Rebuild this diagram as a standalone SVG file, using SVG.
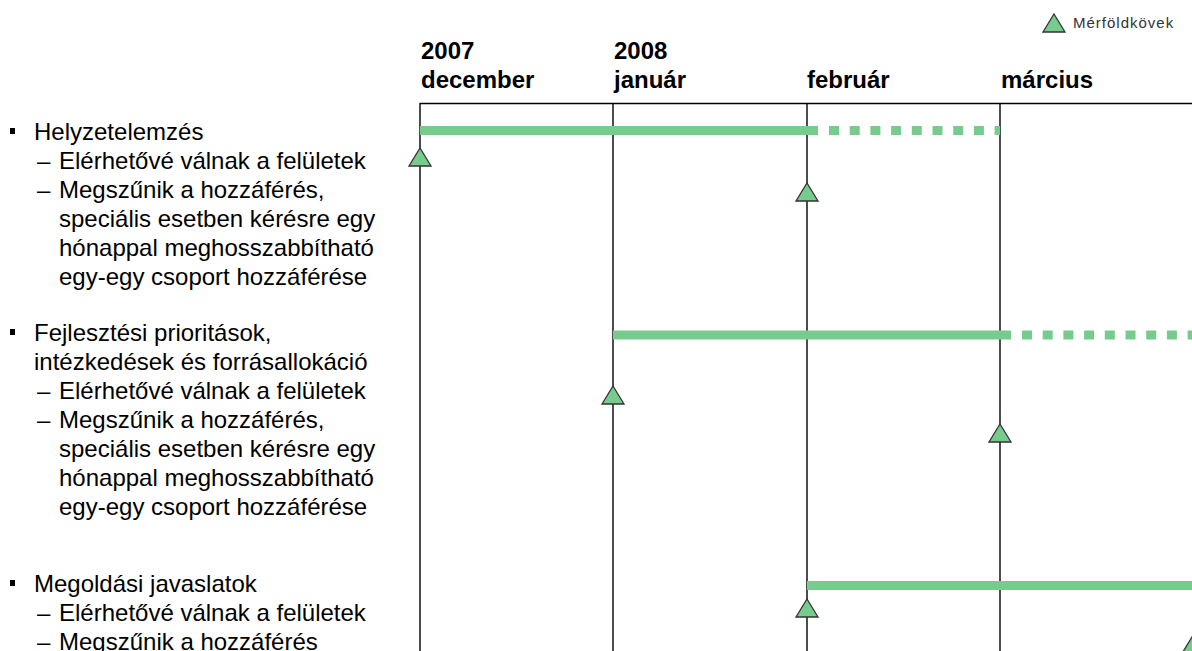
<svg xmlns="http://www.w3.org/2000/svg" width="1192" height="651" viewBox="0 0 1192 651">
<defs>
<style>
.t{font-family:"Liberation Sans",Arial,sans-serif;font-size:24px;fill:#000}
.h{font-family:"Liberation Sans",Arial,sans-serif;font-size:24px;font-weight:bold;fill:#000}
.lg{font-family:"Liberation Sans",Arial,sans-serif;font-size:15px;fill:#333;letter-spacing:1px}
.grid{stroke:#000;stroke-width:1.4;fill:none}
.bar{stroke:#77CB8D;stroke-width:9;fill:none}
.dash{stroke:#77CB8D;stroke-width:9;fill:none;stroke-dasharray:10 10.7}
.ms{fill:#77CB8D;stroke:#333;stroke-width:1.3;stroke-linejoin:miter}
.bul{fill:#000}
</style>
<polygon id="tri" points="0,0 11,18 -11,18"/>
</defs>
<rect width="1192" height="651" fill="#fff"/>

<g id="legend">
<use href="#tri" class="ms" x="1054" y="14"/>
<text class="lg" x="1073" y="28">Mérföldkövek</text>
</g>

<g id="grid">
<line class="grid" x1="420" y1="103.5" x2="1192" y2="103.5"/>
<line class="grid" x1="420" y1="103" x2="420" y2="651"/>
<line class="grid" x1="613" y1="103" x2="613" y2="651"/>
<line class="grid" x1="807" y1="103" x2="807" y2="651"/>
<line class="grid" x1="1000" y1="103" x2="1000" y2="651"/>
</g>

<g id="headers">
<text class="h" x="421" y="59">2007</text>
<text class="h" x="421" y="88">december</text>
<text class="h" x="614" y="59">2008</text>
<text class="h" x="614" y="88">január</text>
<text class="h" x="807" y="88">február</text>
<text class="h" x="1001" y="88">március</text>
</g>

<g id="connectors">
<line class="bar" x1="420" y1="130.5" x2="818" y2="130.5"/>
<line class="dash" x1="829" y1="130.5" x2="1000" y2="130.5"/>
<line class="bar" x1="613" y1="335" x2="1011" y2="335"/>
<line class="dash" x1="1022" y1="335" x2="1192" y2="335"/>
<line class="bar" x1="807" y1="585.5" x2="1192" y2="585.5"/>
</g>

<g id="milestones">
<use href="#tri" class="ms" x="420" y="148"/>
<use href="#tri" class="ms" x="807" y="183"/>
<use href="#tri" class="ms" x="613" y="386"/>
<use href="#tri" class="ms" x="1000" y="424"/>
<use href="#tri" class="ms" x="807" y="599"/>
<use href="#tri" class="ms" x="1192" y="637"/>
</g>

<g id="item1">
<rect class="bul" x="10" y="128" width="5" height="6"/>
<text class="t" x="34" y="140">Helyzetelemzés</text>
<text class="t" x="37" y="169">–</text>
<text class="t" x="59" y="169">Elérhetővé válnak a felületek</text>
<text class="t" x="37" y="198">–</text>
<text class="t" x="59" y="198">Megszűnik a hozzáférés,</text>
<text class="t" x="59" y="227">speciális esetben kérésre egy</text>
<text class="t" x="59" y="256">hónappal meghosszabbítható</text>
<text class="t" x="59" y="285">egy-egy csoport hozzáférése</text>
</g>

<g id="item2">
<rect class="bul" x="10" y="329" width="5" height="6"/>
<text class="t" x="34" y="341">Fejlesztési prioritások,</text>
<text class="t" x="34" y="370">intézkedések és forrásallokáció</text>
<text class="t" x="37" y="399">–</text>
<text class="t" x="59" y="399">Elérhetővé válnak a felületek</text>
<text class="t" x="37" y="428">–</text>
<text class="t" x="59" y="428">Megszűnik a hozzáférés,</text>
<text class="t" x="59" y="457">speciális esetben kérésre egy</text>
<text class="t" x="59" y="486">hónappal meghosszabbítható</text>
<text class="t" x="59" y="515">egy-egy csoport hozzáférése</text>
</g>

<g id="item3">
<rect class="bul" x="10" y="580" width="5" height="6"/>
<text class="t" x="34" y="592">Megoldási javaslatok</text>
<text class="t" x="37" y="621">–</text>
<text class="t" x="59" y="621">Elérhetővé válnak a felületek</text>
<text class="t" x="37" y="650">–</text>
<text class="t" x="59" y="650">Megszűnik a hozzáférés</text>
</g>
</svg>
